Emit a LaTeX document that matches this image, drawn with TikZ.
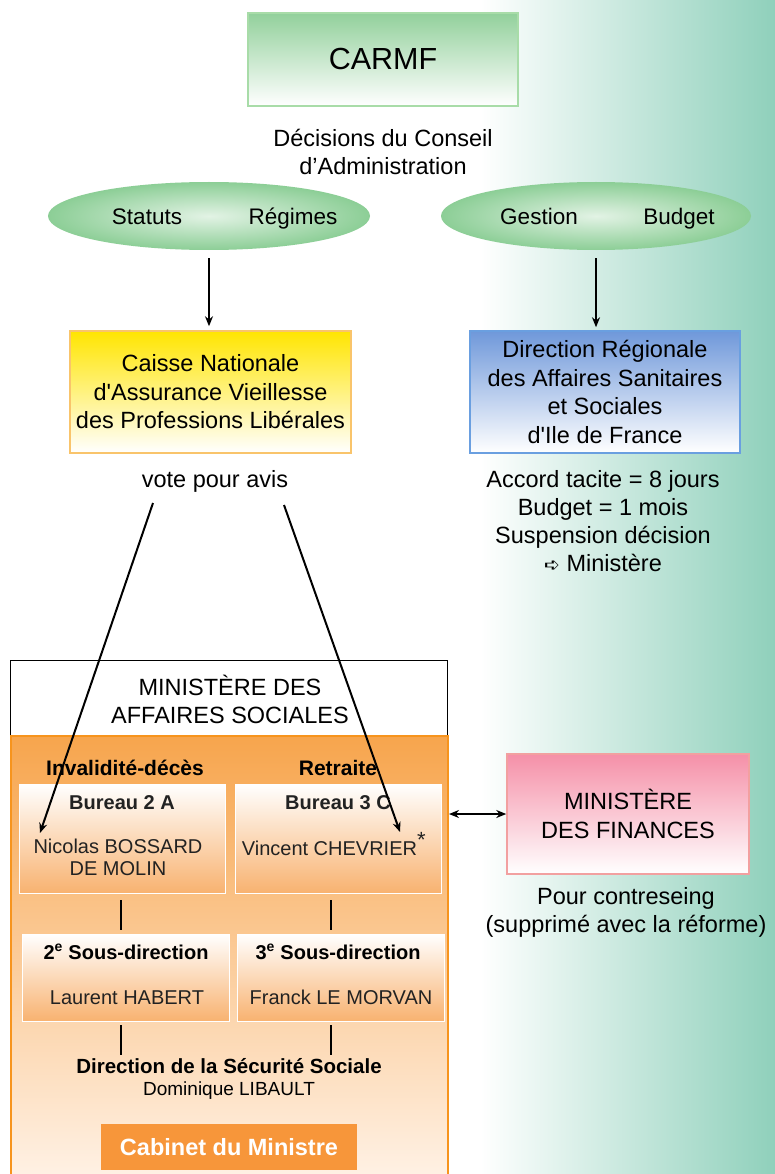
\documentclass[tikz,border=0pt]{standalone}
\usepackage{fontspec}
\setmainfont{Liberation Sans}
\newfontfamily\straightap{Liberation Sans}[Ligatures=TeXOff]
\newfontfamily\dejavu{DejaVu Sans}
\usetikzlibrary{arrows.meta,shapes.geometric}
\definecolor{bgteal}{RGB}{143,208,187}
\definecolor{carmfgreen}{RGB}{146,208,155}
\definecolor{carmfborder}{RGB}{168,220,168}
\definecolor{ellgreen}{RGB}{140,206,150}
\definecolor{cnyellow}{RGB}{255,229,0}
\definecolor{cnborder}{RGB}{249,196,107}
\definecolor{drblue}{RGB}{111,152,218}
\definecolor{drborder}{RGB}{106,159,224}
\definecolor{fipink}{RGB}{245,144,168}
\definecolor{fiborder}{RGB}{242,160,160}
\definecolor{ortop}{RGB}{247,165,77}
\definecolor{orbot}{RGB}{255,242,230}
\definecolor{orborder}{RGB}{247,148,29}
\definecolor{burbot}{RGB}{248,178,112}
\definecolor{cabinet}{RGB}{247,150,58}
\definecolor{boxtext}{RGB}{34,34,34}
\newcommand{\sq}{{\straightap'}}
\tikzset{
  one/.style={text height=#1, text depth=0pt},
  big/.style={font=\fontsize{23.5}{28}\selectfont, align=center, inner sep=0pt},
  small/.style={font=\fontsize{20}{22}\selectfont, align=center, inner sep=0pt, text=boxtext},
  smallbold/.style={font=\bfseries\fontsize{20}{22}\selectfont, align=center, inner sep=0pt, text=boxtext},
  head/.style={font=\bfseries\fontsize{21}{24}\selectfont, align=center, inner sep=0pt, text=black},
  colbox/.style={rectangle, inner sep=0pt, line width=1.5pt, align=center, font=\fontsize{23.5}{28.5}\selectfont},
  burbox/.style={rectangle, inner sep=0pt, draw=white, line width=1pt, top color=white, bottom color=burbot, minimum width=206pt, minimum height=109pt},
  sdbox/.style={rectangle, inner sep=0pt, draw=white, line width=1pt, top color=white, bottom color=burbot, minimum width=207pt, minimum height=87pt},
  arr/.style={line width=2pt, -{Stealth[length=10pt,width=8pt]}},
  vline/.style={line width=1.8pt},
}
\begin{document}
\begin{tikzpicture}[x=1pt,y=-1pt]
\useasboundingbox (0,0) rectangle (775,1174);
\clip (0,0) rectangle (775,1174);
% background
\fill[white] (0,0) rectangle (775,1174);
\shade[left color=white, right color=bgteal] (480,-1) rectangle (776,1175);

% CARMF
\node[colbox, draw=carmfborder, top color=carmfgreen, bottom color=white, minimum width=270pt, minimum height=93pt, font=\fontsize{30.5}{34}\selectfont] (carmf) at (383,59.5) {CARMF};
\node[big] (decis) at (383,152) {Décisions du Conseil\\d’Administration};

% ellipses
\node[ellipse, inner sep=0pt, minimum width=322pt, minimum height=68pt, inner color=white!75!ellgreen, outer color=ellgreen] (ellL) at (209,216) {};
\node[big, one=16.2pt, font=\fontsize{22.5}{26}\selectfont] (statuts) at (147,216) {Statuts};
\node[big, one=16.2pt, font=\fontsize{22.5}{26}\selectfont] (regimes) at (293,216) {Régimes};
\node[ellipse, inner sep=0pt, minimum width=310pt, minimum height=68pt, inner color=white!75!ellgreen, outer color=ellgreen] (ellR) at (596,216) {};
\node[big, one=16.2pt, font=\fontsize{22.5}{26}\selectfont] (gestion) at (539,216) {Gestion};
\node[big, one=16.2pt, font=\fontsize{22.5}{26}\selectfont] (budget) at (679,216) {Budget};

% CNAVPL and DRASS
\node[colbox, draw=cnborder, top color=cnyellow, bottom color=white, minimum width=281pt, minimum height=122pt] (cnavpl) at (210.5,392) {Caisse Nationale\\d\sq Assurance Vieillesse\\des Professions Libérales};
\node[colbox, draw=drborder, top color=drblue, bottom color=white, minimum width=270pt, minimum height=122pt] (drass) at (605,392) {Direction Régionale\\des Affaires Sanitaires\\et Sociales\\d\sq Ile de France};

\draw[arr, shorten <=8pt, shorten >=4pt] (ellL.south) -- (cnavpl.north -| ellL.south);
\draw[arr, shorten <=8pt, shorten >=3pt] (ellR.south) -- (drass.north -| ellR.south);

\node[big, one=16.9pt] (vote) at (215,479) {vote pour avis};
\node[big] (accord) at (603,521) {Accord tacite = 8 jours\\Budget = 1 mois\\Suspension décision\\{\dejavu\fontsize{19}{20}\selectfont ➪} Ministère};

% Ministere des affaires sociales
\node[rectangle, draw=black, line width=0.8pt, fill=white, minimum width=437pt, minimum height=520pt, anchor=north west, inner sep=0pt] (mas) at (10,660) {};
\node[big] (mastext) at (230,699.5) {MINISTÈRE DES\\AFFAIRES SOCIALES};
\node[rectangle, draw=orborder, line width=2pt, top color=ortop, bottom color=orbot, minimum width=437pt, minimum height=445pt, anchor=north west, inner sep=0pt] (orange) at (10,735) {};

\node[head, one=15.1pt] (inval) at (125,768) {Invalidité-décès};
\node[head, one=15.1pt] (retr) at (338,768) {Retraite};

\node[burbox] (b2a) at (122,838.5) {};
\node[smallbold, one=14.4pt] (b2at) at (122,802) {Bureau 2 A};
\node[small] (nicolas) at (118,857) {Nicolas BOSSARD\\DE MOLIN};
\node[burbox] (b3c) at (338,838.5) {};
\node[smallbold, one=14.4pt] (b3ct) at (338,802) {Bureau 3 C};
\node[small, one=14.4pt] (vincent) at (334,848) {Vincent CHEVRIER\textsuperscript{\fontsize{22}{22}\selectfont *}};

\node[sdbox] (sd2) at (125.5,977.5) {};
\node[head, one=14.4pt, font=\bfseries\fontsize{20}{22}\selectfont] (sd2t) at (126,952) {2\textsuperscript{e} Sous-direction};
\node[small, one=14.4pt] (habert) at (127,997) {Laurent HABERT};
\node[sdbox] (sd3) at (341,977.5) {};
\node[head, one=14.4pt, font=\bfseries\fontsize{20}{22}\selectfont] (sd3t) at (338,952) {3\textsuperscript{e} Sous-direction};
\node[small, one=14.4pt] (morvan) at (341,997) {Franck LE MORVAN};

\node[head, one=14.8pt, font=\bfseries\fontsize{20.5}{24}\selectfont] (dss) at (229,1066) {Direction de la Sécurité Sociale};
\node[small, one=13.7pt, font=\fontsize{19}{22}\selectfont, text=black] (libault) at (229,1089) {Dominique LIBAULT};

\node[rectangle, fill=cabinet, minimum width=256pt, minimum height=46pt, inner sep=0pt, text=white, font=\bfseries\fontsize{23.5}{26}\selectfont] (cab) at (229,1147) {Cabinet du Ministre};

% vertical connectors
\coordinate (c1a) at (121,900); \coordinate (c1b) at (121,930);
\coordinate (c2a) at (331,900); \coordinate (c2b) at (331,930);
\coordinate (c3a) at (121,1025); \coordinate (c3b) at (121,1055);
\coordinate (c4a) at (331,1025); \coordinate (c4b) at (331,1055);
\draw[vline] (c1a) -- (c1b);
\draw[vline] (c2a) -- (c2b);
\draw[vline] (c3a) -- (c3b);
\draw[vline] (c4a) -- (c4b);

% vote lines
\coordinate (v1) at (153,503); \coordinate (n1) at (40,833);
\coordinate (v2) at (284,505); \coordinate (n2) at (400,832);
\draw[arr] (v1) -- (n1);
\draw[arr] (v2) -- (n2);

% Finances
\node[colbox, draw=fiborder, top color=fipink, bottom color=white, minimum width=242pt, minimum height=120pt, line width=1.5pt] (fin) at (628,814) {MINISTÈRE\\DES FINANCES};
\draw[line width=1.8pt, {Stealth[length=10pt,width=8pt]}-{Stealth[length=10pt,width=8pt]}] (orange.east |- fin.west) -- (fin.west);
\node[big] (contre) at (626,912) {Pour contreseing\\(supprimé avec la réforme)};
\end{tikzpicture}
\end{document}
